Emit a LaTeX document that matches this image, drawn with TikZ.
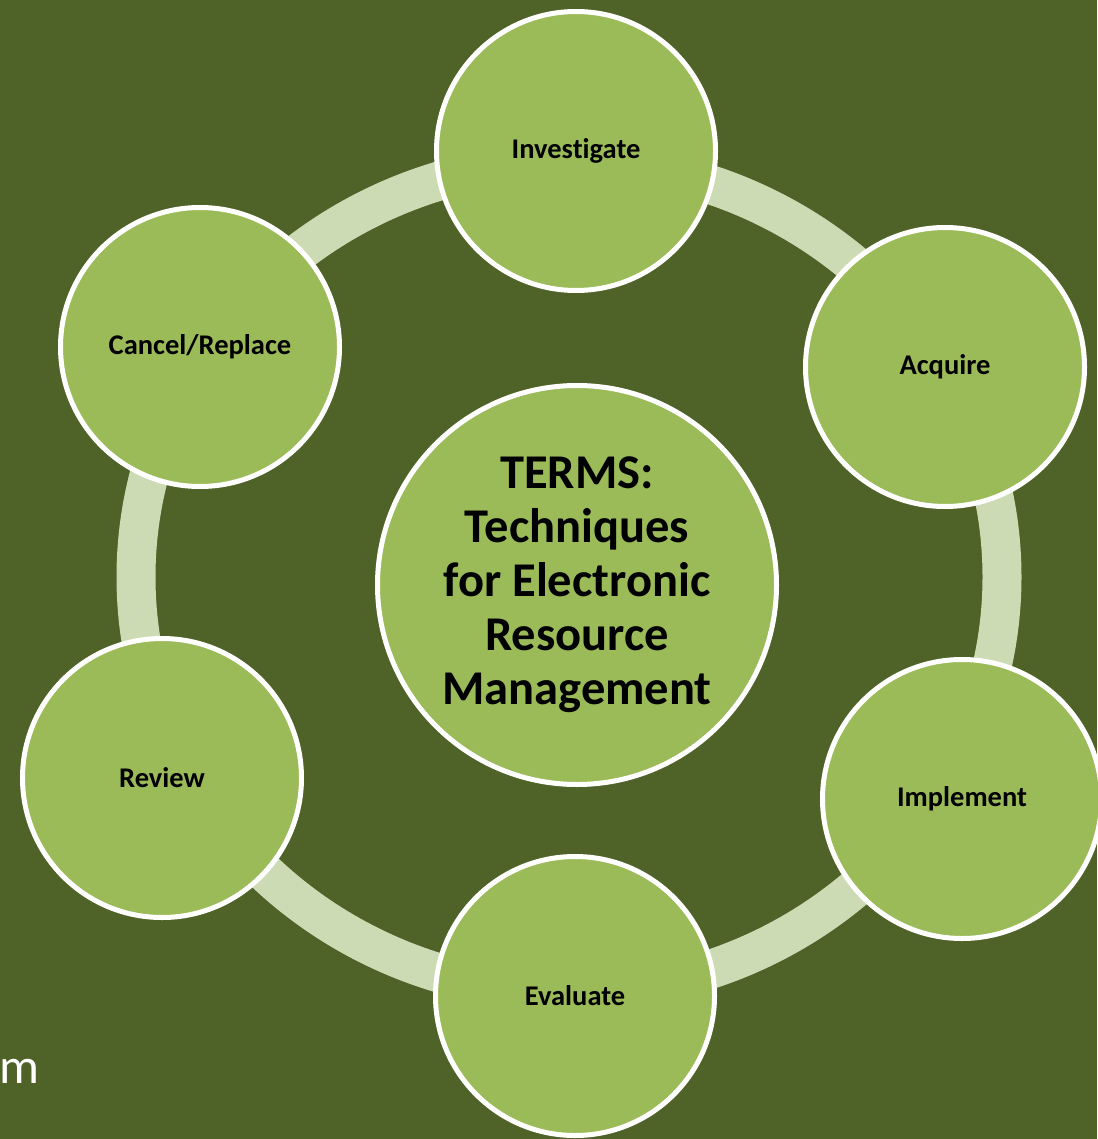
\documentclass[tikz,border=0pt]{standalone}
\usepackage{fontspec}
\setmainfont{Carlito}[Ligatures=NoCommon]
\definecolor{bgc}{HTML}{4F6228}
\definecolor{nodec}{HTML}{9BBB59}
\definecolor{ringc}{HTML}{CDDBB5}
\begin{document}
\begin{tikzpicture}[x=1pt,y=-1pt,
  stage/.style={circle,draw=white,line width=5pt,fill=nodec,minimum size=279pt,inner sep=0pt,
    font=\fontsize{28.5}{33}\selectfont\bfseries,text=black},
  hub/.style={circle,draw=white,line width=5pt,fill=nodec,minimum size=399pt,inner sep=0pt,
    font=\fontsize{48.5}{54}\selectfont\bfseries,text=black,align=center}]
\fill[bgc] (0,0) rectangle (1097,1139);
\useasboundingbox (0,0) rectangle (1097,1139);
\coordinate (c) at (569,577);
\draw[ringc,line width=39pt] (c) ellipse[x radius=433,y radius=415];
\node[hub] (terms) at (577,585) {TERMS:\\Techniques\\for Electronic\\Resource\\Management};
\node[stage] (inv) at (576,151) {Investigate};
\node[stage] (acq) at (945,367) {Acquire};
\node[stage] (imp) at (962,799) {Implement};
\node[stage] (eva) at (575,996) {Evaluate};
\node[stage] (rev) at (162,778) {Review};
\node[stage] (can) at (200,347) {Cancel/Replace};
\node[anchor=base west,inner sep=0pt,text=white,font=\fontsize{50}{60}\selectfont] (m) at (-1,1083) {m};
\end{tikzpicture}
\end{document}
